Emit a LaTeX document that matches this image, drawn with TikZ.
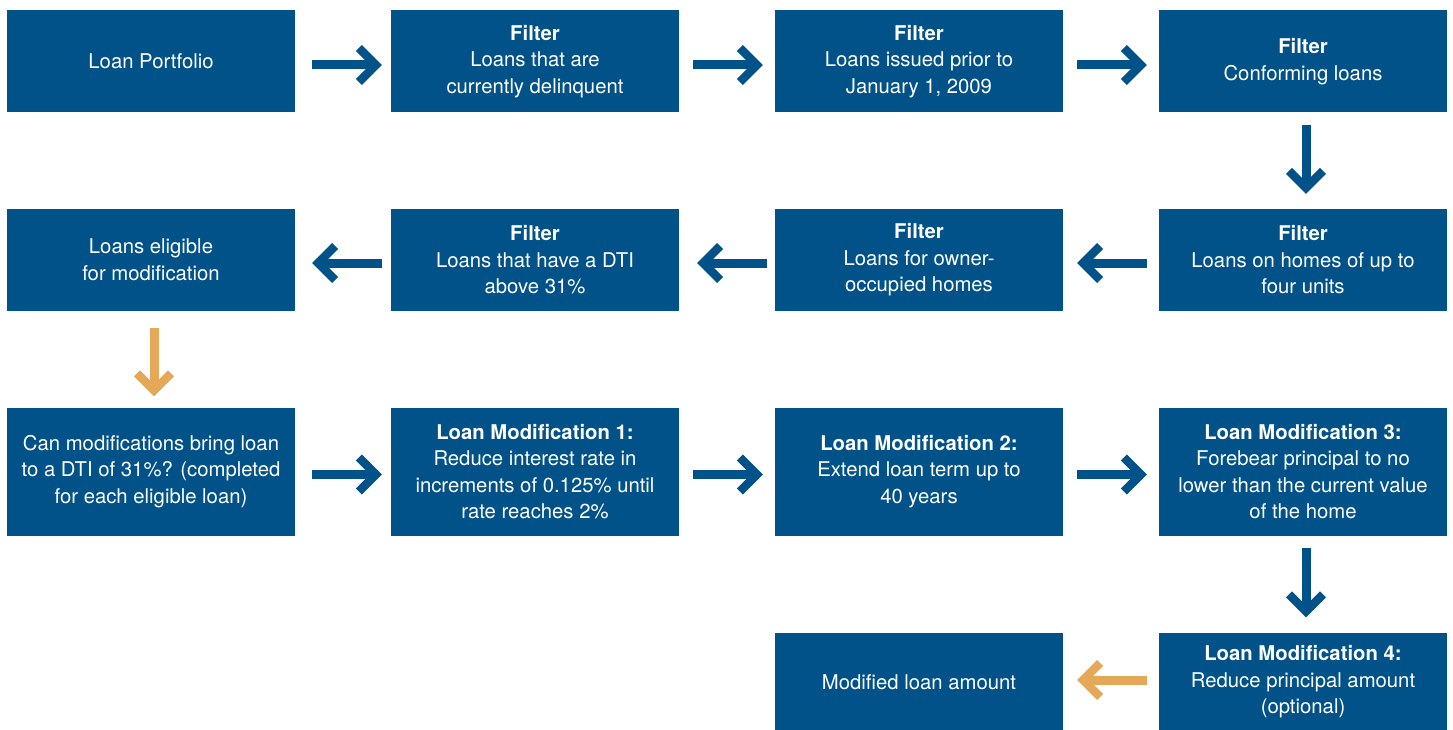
\documentclass[tikz,border=0pt]{standalone}
\usepackage{fontspec}
\setmainfont{TeX Gyre Heros}
\usetikzlibrary{arrows.meta}
\definecolor{boxblue}{RGB}{0,82,136}
\definecolor{arrorange}{RGB}{228,168,88}
\tikzset{
  box/.style={rectangle, fill=boxblue, text=white, align=center, inner sep=0pt,
    minimum width=288pt, font=\fontsize{20.3pt}{26.5pt}\selectfont},
  arr/.style={draw=boxblue, line width=9pt, -{Straight Barb[length=17pt,width=34pt,line width=8.5pt]}},
  oarr/.style={arr, draw=arrorange},
}
\begin{document}
\begin{tikzpicture}[x=1pt,y=-1pt]
\useasboundingbox (0,0) rectangle (1453,730);
% row 1
\node[box, minimum height=102pt] (a1) at (151,61.5) {Loan Portfolio};
\node[box, minimum height=102pt] (a2) at (535,61.5) {\textbf{Filter}\\Loans that are\\currently delinquent};
\node[box, minimum height=102pt] (a3) at (919,61.5) {\textbf{Filter}\\Loans issued prior to\\January 1, 2009};
\node[box, minimum height=102pt] (a4) at (1303,61.5) {\textbf{Filter}\\Conforming loans};
% row 2
\node[box, minimum height=102pt] (b1) at (151,260) {Loans eligible\\for modification};
\node[box, minimum height=102pt] (b2) at (535,260) {\textbf{Filter}\\Loans that have a DTI\\above 31\%};
\node[box, minimum height=102pt] (b3) at (919,260) {\textbf{Filter}\\Loans for owner-\\occupied homes};
\node[box, minimum height=102pt] (b4) at (1303,260) {\textbf{Filter}\\Loans on homes of up to\\four units};
% row 3
\node[box, minimum height=128pt] (c1) at (151,471.5) {Can modifications bring loan\\to a DTI of 31\%? (completed\\for each eligible loan)};
\node[box, minimum height=128pt] (c2) at (535,471.5) {\textbf{Loan Modification 1:}\\Reduce interest rate in\\increments of 0.125\% until\\rate reaches 2\%};
\node[box, minimum height=128pt] (c3) at (919,471.5) {\textbf{Loan Modification 2:}\\Extend loan term up to\\40 years};
\node[box, minimum height=128pt] (c4) at (1303,471.5) {\textbf{Loan Modification 3:}\\Forebear principal to no\\lower than the current value\\of the home};
% row 4
\node[box, minimum height=99pt] (d3) at (919,682) {Modified loan amount};
\node[box, minimum height=99pt] (d4) at (1303,682) {\textbf{Loan Modification 4:}\\Reduce principal amount\\(optional)};
% arrows row 1
\draw[arr, shorten <=17pt, shorten >=9pt] ([yshift=-3.5pt]a1.east) -- ([yshift=-3.5pt]a2.west);
\draw[arr, shorten <=14pt, shorten >=12pt] ([yshift=-3.5pt]a2.east) -- ([yshift=-3.5pt]a3.west);
\draw[arr, shorten <=14pt, shorten >=12pt] ([yshift=-3.5pt]a3.east) -- ([yshift=-3.5pt]a4.west);
\draw[arr, shorten <=12pt, shorten >=15pt] ([xshift=3pt]a4.south) -- ([xshift=3pt]b4.north);
% arrows row 2
\draw[arr, shorten <=12pt, shorten >=14pt] ([yshift=-3pt]b4.west) -- ([yshift=-3pt]b3.east);
\draw[arr, shorten <=8pt, shorten >=18pt] ([yshift=-3pt]b3.west) -- ([yshift=-3pt]b2.east);
\draw[arr, shorten <=9pt, shorten >=17pt] ([yshift=-3pt]b2.west) -- ([yshift=-3pt]b1.east);
\draw[oarr, shorten <=17pt, shorten >=11pt] ([xshift=3pt]b1.south) -- ([xshift=3pt]c1.north);
% arrows row 3
\draw[arr, shorten <=17pt, shorten >=9pt] ([yshift=-3pt]c1.east) -- ([yshift=-3pt]c2.west);
\draw[arr, shorten <=14pt, shorten >=12pt] ([yshift=-3pt]c2.east) -- ([yshift=-3pt]c3.west);
\draw[arr, shorten <=14pt, shorten >=12pt] ([yshift=-3pt]c3.east) -- ([yshift=-3pt]c4.west);
\draw[arr, shorten <=12pt, shorten >=15pt] ([xshift=3pt]c4.south) -- ([xshift=3pt]d4.north);
% arrow row 4
\draw[oarr, shorten <=12pt, shorten >=14pt] ([yshift=2pt]d4.west) -- ([yshift=2pt]d3.east);
\end{tikzpicture}
\end{document}
